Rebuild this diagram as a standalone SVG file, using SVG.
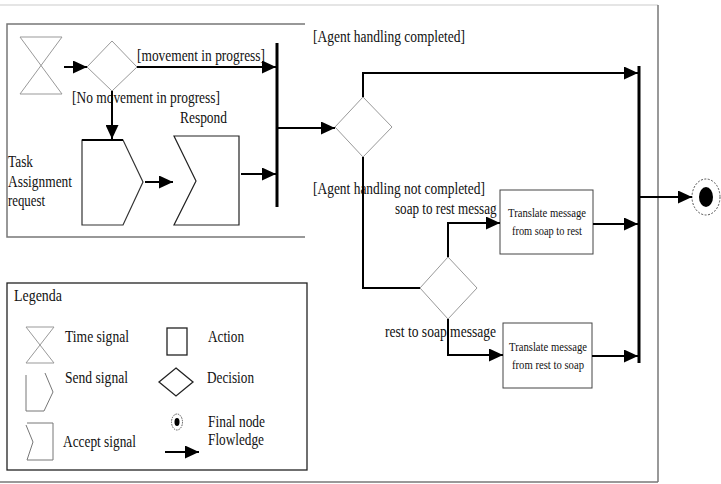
<svg xmlns="http://www.w3.org/2000/svg" width="721" height="484" viewBox="0 0 721 484">
<style>
text{font-family:"Liberation Serif","Times New Roman",serif;fill:#111}
.t17{font-size:17px}
.t13{font-size:13px}
.frame{fill:none;stroke:#777;stroke-width:1.5}
.gray{fill:none;stroke:#999;stroke-width:1}
.dark{fill:none;stroke:#222;stroke-width:1.3}
.bar{stroke:#000;stroke-width:3}
.conn{fill:none;stroke:#000;stroke-width:2}
</style>
<defs>
<marker id="ah" markerUnits="userSpaceOnUse" markerWidth="15" markerHeight="13" refX="14" refY="6.5" orient="auto">
<path d="M0,0 L14,6.5 L0,13 z" fill="#000"/>
</marker>
</defs>
<rect width="721" height="484" fill="#fff"/>
<g id="frame">
<line x1="0" y1="5" x2="658" y2="5" stroke="#ddd" stroke-width="1.5"/>
<line x1="658" y1="5" x2="658" y2="482" class="frame"/>
<line x1="0" y1="482" x2="658" y2="482" class="frame"/>
<polyline points="305,24 7,24 7,237 305,237" class="frame"/>
</g>
<g id="time-signal"><path d="M20,37 L62,37 L20,94 L62,94 Z" class="gray"/></g>
<g id="decision-movement">
<polygon points="112,41 137,67 112,91 87,67" class="gray"/>
<text class="t17" x="137" y="61" textLength="128" lengthAdjust="spacingAndGlyphs">[movement in progress]</text>
<text class="t17" x="72" y="103" textLength="148" lengthAdjust="spacingAndGlyphs">[No movement in progress]</text>
</g>
<g id="send-signal">
<polygon points="82,140 123,140 143,182 123,225 82,225" fill="none" stroke="#333" stroke-width="1.2"/>
<line x1="82" y1="140" x2="123" y2="140" stroke="#000" stroke-width="2"/>
<text class="t17" x="8" y="167" textLength="25" lengthAdjust="spacingAndGlyphs">Task</text>
<text class="t17" x="8" y="187" textLength="64" lengthAdjust="spacingAndGlyphs">Assignment</text>
<text class="t17" x="8" y="206" textLength="37" lengthAdjust="spacingAndGlyphs">request</text>
</g>
<g id="accept-signal">
<polygon points="174,136 239,136 239,225 174,225 196,181" fill="none" stroke="#222" stroke-width="1.2"/>
<text class="t17" x="180" y="123" textLength="47" lengthAdjust="spacingAndGlyphs">Respond</text>
</g>
<g id="join-bar-1"><line x1="277" y1="43" x2="277" y2="207" class="bar"/></g>
<g id="decision-agent">
<polygon points="363,97 392,127 363,157 335,127" class="gray"/>
<text class="t17" x="313" y="42" textLength="152" lengthAdjust="spacingAndGlyphs">[Agent handling completed]</text>
<text class="t17" x="313" y="194" textLength="172" lengthAdjust="spacingAndGlyphs">[Agent handling not completed]</text>
</g>
<g id="decision-message">
<polygon points="448,257 477,288 448,319 420,288" class="gray"/>
<text class="t17" transform="translate(395,214) scale(0.8,1)" x="0" y="0" textLength="127" lengthAdjust="spacingAndGlyphs">soap to rest messag</text>
<text class="t17" x="385" y="337" textLength="111" lengthAdjust="spacingAndGlyphs">rest to soap message</text>
</g>
<g id="translate-soap-rest">
<rect x="500" y="190" width="93" height="64" fill="none" stroke="#444" stroke-width="1"/>
<text class="t13" x="508" y="217" textLength="78" lengthAdjust="spacingAndGlyphs">Translate message</text>
<text class="t13" x="512" y="235" textLength="70" lengthAdjust="spacingAndGlyphs">from soap to rest</text>
</g>
<g id="translate-rest-soap">
<rect x="503" y="323" width="89" height="65" fill="none" stroke="#444" stroke-width="1"/>
<text class="t13" x="509" y="351" textLength="78" lengthAdjust="spacingAndGlyphs">Translate message</text>
<text class="t13" x="512" y="369" textLength="72" lengthAdjust="spacingAndGlyphs">from rest to soap</text>
</g>
<g id="join-bar-2"><line x1="639" y1="66" x2="639" y2="363" class="bar"/></g>
<g id="final-node">
<ellipse cx="706" cy="197" rx="14" ry="18" fill="none" stroke="#555" stroke-width="1" stroke-dasharray="2,1.5"/>
<ellipse cx="706" cy="197" rx="7" ry="10" fill="#000"/>
</g>
<g id="connectors">
<line x1="64" y1="67" x2="87" y2="67" class="conn" marker-end="url(#ah)"/>
<line x1="137" y1="67" x2="276" y2="67" class="conn" marker-end="url(#ah)"/>
<line x1="112" y1="91" x2="112" y2="139" class="conn" marker-end="url(#ah)"/>
<line x1="145" y1="182" x2="173" y2="182" class="conn" marker-end="url(#ah)"/>
<line x1="241" y1="174" x2="276" y2="174" class="conn" marker-end="url(#ah)"/>
<line x1="277" y1="128" x2="335" y2="128" class="conn" marker-end="url(#ah)"/>
<polyline points="363,97 363,73 638,73" class="conn" marker-end="url(#ah)"/>
<polyline points="363,157 363,288 420,288" class="conn"/>
<polyline points="448,257 448,223 500,223" class="conn" marker-end="url(#ah)"/>
<polyline points="448,319 448,355 503,355" class="conn" marker-end="url(#ah)"/>
<line x1="593" y1="224" x2="638" y2="224" class="conn" marker-end="url(#ah)"/>
<line x1="592" y1="356" x2="638" y2="356" class="conn" marker-end="url(#ah)"/>
<line x1="640" y1="197" x2="692" y2="197" class="conn" marker-end="url(#ah)"/>
</g>
<g id="legend">
<rect x="7" y="283" width="300" height="187" class="dark"/>
<text class="t17" x="14" y="301" textLength="48" lengthAdjust="spacingAndGlyphs">Legenda</text>
<path d="M26,327 L54,327 L26,363 L54,363 Z" class="gray"/>
<text class="t17" x="65" y="342" textLength="64" lengthAdjust="spacingAndGlyphs">Time signal</text>
<polyline points="26,375 26,411 44,411 53,392 45,373" fill="none" stroke="#777" stroke-width="1"/>
<text class="t17" x="65" y="383" textLength="63" lengthAdjust="spacingAndGlyphs">Send signal</text>
<polyline points="27,423 53,423 53,460 27,460 33,442 26,425" fill="none" stroke="#777" stroke-width="1"/>
<text class="t17" x="63" y="447" textLength="73" lengthAdjust="spacingAndGlyphs">Accept signal</text>
<rect x="167" y="328" width="20" height="27" class="dark"/>
<text class="t17" x="208" y="342" textLength="36" lengthAdjust="spacingAndGlyphs">Action</text>
<polygon points="176,368 193,382 176,396 159,382" class="dark"/>
<text class="t17" x="207" y="383" textLength="47" lengthAdjust="spacingAndGlyphs">Decision</text>
<ellipse cx="177" cy="422" rx="5.5" ry="8" fill="none" stroke="#555" stroke-width="1" stroke-dasharray="1.5,1"/>
<ellipse cx="177" cy="422" rx="2.5" ry="4" fill="#000"/>
<text class="t17" x="208" y="427" textLength="57" lengthAdjust="spacingAndGlyphs">Final node</text>
<line x1="165" y1="452" x2="199" y2="452" class="conn" marker-end="url(#ah)"/>
<text class="t17" x="208" y="445" textLength="56" lengthAdjust="spacingAndGlyphs">Flowledge</text>
</g>
</svg>
